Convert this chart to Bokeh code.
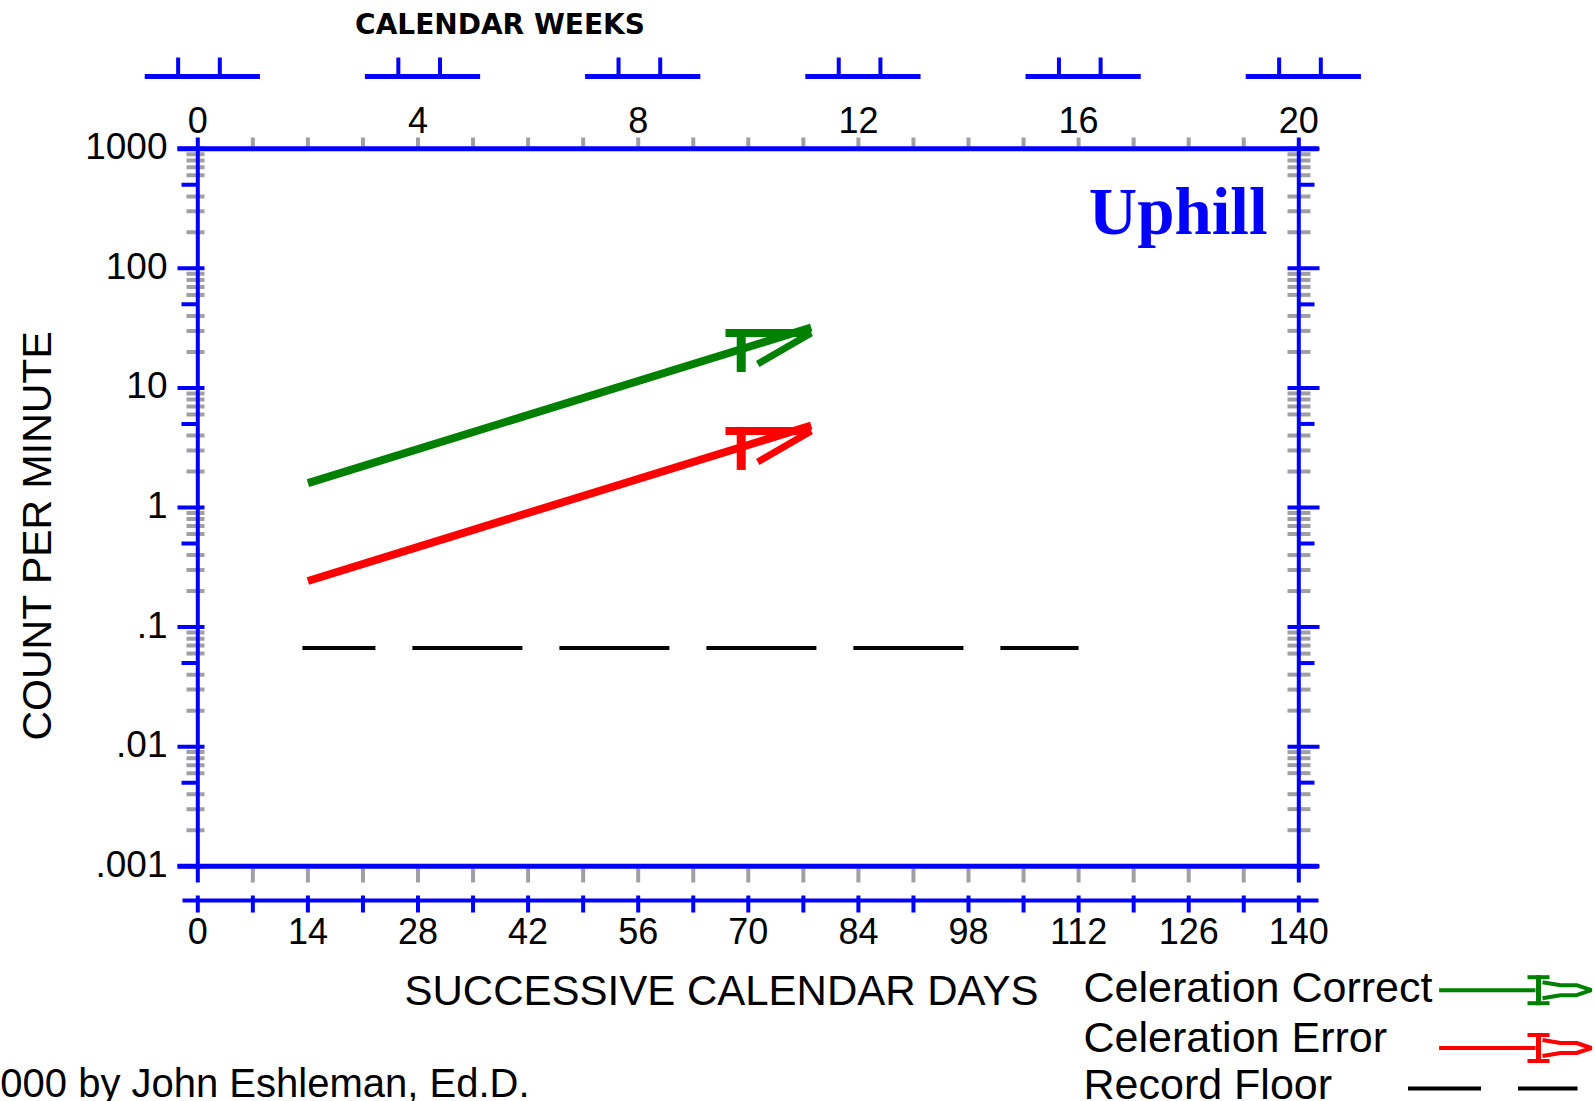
import numpy as np
from bokeh.plotting import figure
from bokeh.models import Range1d
from bokeh.core.properties import value
from bokeh.embed import file_html
from bokeh.resources import INLINE

# ---------------- data ----------------
week_ticks = [0, 4, 8, 12, 16, 20]
day_ticks = [0, 14, 28, 42, 56, 70, 84, 98, 112, 126, 140]
day_minor_ticks = list(range(0, 141, 7))
y_ticks = [1000, 100, 10, 1, 0.1, 0.01, 0.001]
y_tick_labels = ["1000", "100", "10", "1", ".1", ".01", ".001"]
correct_days = [14, 78]
correct_values = [1.6, 32]
error_days = [14, 78]
error_values = [0.243, 4.85]
floor_days = [13.3, 112]
floor_values = [0.0667, 0.0667]
celeration_mark_day = 70
legend_labels = ["Celeration Correct", "Celeration Error", "Record Floor"]
chart_title = "Uphill"
x_title = "SUCCESSIVE CALENDAR DAYS"
y_title = "COUNT PER MINUTE"
top_title = "CALENDAR WEEKS"
credit = "©2000 by John Eshleman, Ed.D."

BLUE, GREEN, RED, GRAY, BLACK = "#0000ff", "#008000", "#ff0000", "#a0a0a4", "#000000"
SANS = value("Liberation Sans")

# ---------------- layout (px from the canvas top-left) ----------------
W, H = 1595, 1101
X0, X1 = 197.3, 1298.3      # day 0 / day 140
YT, YB = 148.3, 865.7       # 1000 / .001
PPD = (X1 - X0) / 140.0
PPDEC = (YB - YT) / 6.0


def dx(px):
    return (px - X0) / PPD


def vy(px):
    return 10 ** (3 - (px - YT) / PPDEC)


def shift(v, px):
    return v * 10 ** (-px / PPDEC)


p = figure(width=W, height=H, x_range=Range1d(dx(0), dx(W)),
           y_range=Range1d(vy(H), vy(0)), y_axis_type="log",
           x_axis_location=None, y_axis_location=None,
           toolbar_location=None, output_backend="svg", min_border=0,
           outline_line_color=None, background_fill_color="white",
           border_fill_color="white")
p.grid.grid_line_color = None


def seg(x0, y0, x1, y1, color, w):
    p.segment(x0=list(x0), y0=list(y0), x1=list(x1), y1=list(y1),
              line_color=color, line_width=w, line_cap="butt")


def txt(x, y, t, size, align="center", color=BLACK, font=SANS,
        style="normal", angle=0.0, yoff=0.0):
    p.text(x=list(x), y=list(y), text=list(t), text_font=font,
           text_font_size=value(size), text_align=align,
           text_baseline="alphabetic", text_color=color,
           text_font_style=style, angle=angle, y_offset=yoff)


# ---------------- gray minor ticks ----------------
inner_days = [d for d in day_minor_ticks if 0 < d < 140]
n = len(inner_days)
seg(inner_days, [vy(137)] * n, inner_days, [vy(146)] * n, GRAY, 4)
seg(inner_days, [vy(868)] * n, inner_days, [vy(882)] * n, GRAY, 4)

minor_vals = [m * 10.0 ** k for k in range(-3, 3) for m in (2, 3, 4, 6, 7, 8, 9)]
m = len(minor_vals)
seg([dx(186)] * m, minor_vals, [dx(204)] * m, minor_vals, GRAY, 4)
seg([dx(1287)] * m, minor_vals, [dx(1310)] * m, minor_vals, GRAY, 4)

# ---------------- blue axes ----------------
fives = [5 * 10.0 ** k for k in range(-3, 3)]
f = len(fives)
seg([dx(181)] * f, fives, [dx(197)] * f, fives, BLUE, 4)
seg([dx(1298)] * f, fives, [dx(1314)] * f, fives, BLUE, 4)
k = len(y_ticks)
seg([dx(177)] * k, y_ticks, [dx(204)] * k, y_ticks, BLUE, 4)
seg([dx(1287)] * k, y_ticks, [dx(1319)] * k, y_ticks, BLUE, 4)

seg([dx(177)] * 2, [y_ticks[0], y_ticks[-1]], [dx(1318)] * 2,
    [y_ticks[0], y_ticks[-1]], BLUE, 5)
seg([day_ticks[0], day_ticks[-1]], [vy(137)] * 2, [day_ticks[0], day_ticks[-1]],
    [vy(882)] * 2, BLUE, 4)

# days axis (below)
y_days = vy(900)
seg([dx(182)], [y_days], [dx(1318)], [y_days], BLUE, 4)
nd = len(day_minor_ticks)
seg(day_minor_ticks, [vy(895)] * nd, day_minor_ticks, [vy(912)] * nd, BLUE, 4)
txt(day_ticks, [vy(930.5)] * len(day_ticks), [str(d) for d in day_ticks], "36px")

# calendar weeks ruler (above)
wdays = [7 * w for w in week_ticks]
nw = len(wdays)
seg([d - 6.75 for d in wdays], [vy(76)] * nw, [d + 7.9 for d in wdays],
    [vy(76)] * nw, BLUE, 5)
tick_w = [d - 2.5 for d in wdays] + [d + 2.8 for d in wdays]
seg(tick_w, [vy(57)] * (2 * nw), tick_w, [vy(76)] * (2 * nw), BLUE, 4)
txt(wdays, [vy(119.5)] * nw, [str(w) for w in week_ticks], "36px")
txt([dx(499.5)], [vy(24)], [top_title], "28px", font=value("DejaVu Sans"),
    style="bold")

# y tick labels
txt([dx(167)] * k, y_ticks, y_tick_labels, "37px", align="right", yoff=-2.5)

# ---------------- data ----------------
p.line(floor_days, floor_values, line_color=BLACK, line_width=4,
       line_dash="110 37", line_dash_offset=37)


def celeration(days, vals, color):
    p.line(days, vals, line_color=color, line_width=8)
    lv = np.interp(celeration_mark_day, days, np.log10(vals))
    v = 10 ** lv
    end_d = days[-1]
    stem_x = celeration_mark_day - 0.9
    seg([stem_x], [shift(v, -18)], [stem_x], [shift(v, 25)], color, 9)
    seg([celeration_mark_day - 2.9], [shift(v, -14)], [end_d], [shift(v, -14)], color, 8)
    seg([end_d], [shift(v, -14)], [celeration_mark_day + 1.2], [shift(v, 17)], color, 7)


celeration(correct_days, correct_values, GREEN)
celeration(error_days, error_values, RED)

# ---------------- titles ----------------
txt([dx(721)], [vy(990)], [x_title], "42px")
txt([dx(36.5)], [vy(535)], [y_title], "41px", angle=np.pi / 2)
txt([dx(1267)], [vy(210)], [chart_title], "67px", align="right", color=BLUE,
    font=value("Liberation Serif"), style="bold")
txt([dx(529)], [vy(1082.5)], [credit], "40px", align="right")

# ---------------- legend ----------------
txt([dx(1083)] * 3, [vy(986), vy(1036), vy(1083.5)], legend_labels, "43px",
    align="left")
for color, ly in zip([GREEN, RED], [989.7, 1047.5]):
    seg([dx(1438.6)], [vy(ly)], [dx(1535)], [vy(ly)], color, 4)
    seg([dx(1538)], [vy(ly - 15)], [dx(1538)], [vy(ly + 15)], color, 5)
    seg([dx(1527)] * 2, [vy(ly - 13), vy(ly + 13)], [dx(1549)] * 2,
        [vy(ly - 13), vy(ly + 13)], color, 4)
    cx = [dx(1542), dx(1560), dx(1576), dx(1591), dx(1576), dx(1560), dx(1542)]
    cy = [vy(ly - 8), vy(ly - 5), vy(ly - 5), vy(ly), vy(ly + 5), vy(ly + 5), vy(ly + 8)]
    p.line(cx, cy, line_color=color, line_width=4)
p.line([dx(1407.5), dx(1577)], [vy(1088)] * 2, line_color=BLACK, line_width=4,
       line_dash="110 37", line_dash_offset=37)

open("out.html", "w").write(file_html(p, INLINE))
